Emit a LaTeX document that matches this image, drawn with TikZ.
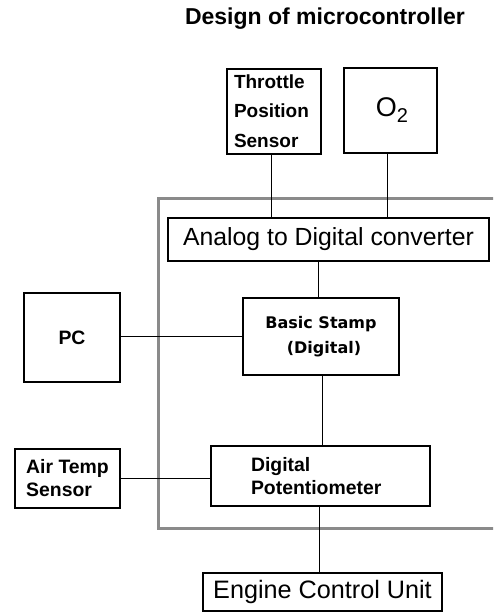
\documentclass[tikz,border=0pt]{standalone}
\usepackage{fontspec}
\setmainfont{Liberation Sans}
\newfontfamily\stampfont{DejaVu Sans}
\definecolor{frame}{RGB}{138,138,138}
\begin{document}
\begin{tikzpicture}[x=1pt,y=-1pt,
  box/.style={draw=black,line width=2pt,inner sep=0pt,outer sep=0pt},
  wire/.style={draw=black,line width=1pt},
  bfont/.style={font=\bfseries\fontsize{19}{29.5}\selectfont}]
\useasboundingbox (0,0) rectangle (493,613);
\clip (0,0) rectangle (493,613);
% title
\node[font=\bfseries\fontsize{23}{26}\selectfont] (title) at (325,19) {Design of microcontroller};
% grey frame
\draw[frame,line width=3pt] (500,198.5) -- (158.5,198.5) -- (158.5,528) -- (500,528);
% boxes
\node[box,bfont,minimum width=94,minimum height=85,text width=80,inner xsep=7pt,align=left] (tps) at (274,111) {Throttle\\Position\\Sensor};
\node[box,minimum width=93,minimum height=85] (o2) at (390.5,110) {\hspace*{3pt}{\fontsize{27}{30}\selectfont O}\raisebox{-6pt}{\fontsize{20}{24}\selectfont 2}};
\node[box,minimum width=321,minimum height=43,font=\fontsize{24.8}{28}\selectfont] (adc) at (328.5,239.5) {Analog to Digital converter};
\node[box,minimum width=156,minimum height=77,align=center,font=\stampfont\bfseries\fontsize{16}{25}\selectfont] (bs) at (321,336.5) {Basic Stamp\\\hspace*{6pt}(Digital)};
\node[box,minimum width=96,minimum height=89,font=\bfseries\fontsize{19.4}{22}\selectfont] (pc) at (72,337.5) {PC};
\node[box,minimum width=219,minimum height=60,text width=139,inner xsep=40pt,align=left,font=\bfseries\fontsize{19.4}{23}\selectfont] (pot) at (320.5,476) {Digital\\Potentiometer};
\node[box,minimum width=105,minimum height=59,align=left,font=\bfseries\fontsize{19.4}{23}\selectfont] (air) at (67.5,478.5) {Air Temp\\Sensor};
\node[box,minimum width=239,minimum height=38,font=\fontsize{25.2}{28}\selectfont] (ecu) at (322.5,592) {Engine Control Unit};
% connectors
\draw[wire] (tps.south -| 271,0) -- (adc.north -| 271,0);
\draw[wire] (o2.south -| 387,0) -- (adc.north -| 387,0);
\draw[wire] (adc.south -| 318,0) -- (bs.north -| 318,0);
\draw[wire] (pc.east |- 0,336) -- (bs.west |- 0,336);
\draw[wire] (bs.south -| 322,0) -- (pot.north -| 322,0);
\draw[wire] (air.east |- 0,478) -- (pot.west |- 0,478);
\draw[wire] (pot.south -| 319,0) -- (ecu.north -| 319,0);
\end{tikzpicture}
\end{document}
